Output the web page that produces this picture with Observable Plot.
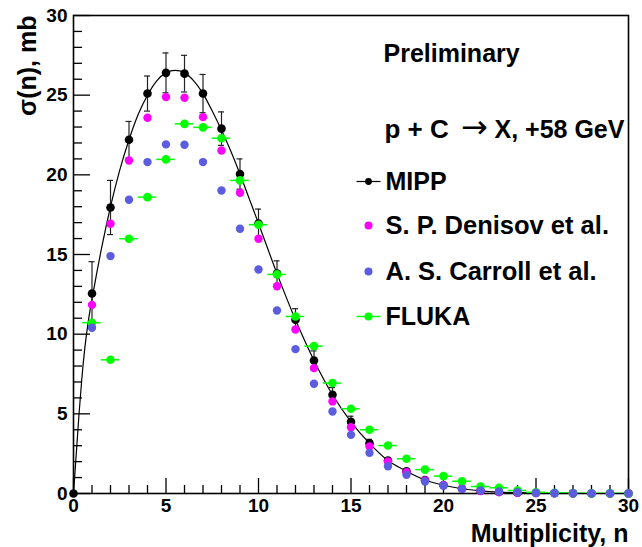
<!DOCTYPE html>
<html><head><meta charset="utf-8">
<script src="https://cdn.jsdelivr.net/npm/d3@7"></script>
<script src="https://cdn.jsdelivr.net/npm/@observablehq/plot@0.6"></script>
<style>body{margin:0;background:#fff} #chart svg{display:block}</style>
</head><body><div id="chart"></div>
<script>
// ---- data ----
const mippN   = [0,1,2,3,4,5,6,7,8,9,10,11,12,13,14,15,16,17,18,19,20,21,22,23,24,25,26,27,28,29,30];
const mippV   = [0,12.55,17.95,22.2,25.1,26.4,26.35,25.1,22.9,20.05,16.95,13.8,10.9,8.35,6.2,4.5,3.15,2.07,1.4,0.85,0.52,0.3,0.17,0.09,0.05,0.03,0.02,0.01,0,0,0];
const mippErr = [0,2.0,1.7,1.15,1.1,1.25,1.15,1.2,1.05,0.95,0.9,0.8,0.7,0.6,0.45,0.35,0.25,0.15,0.1,0.08,0.05,0.03,0.02,0.01,0,0,0,0,0,0,0];

const otherN   = [1,2,3,4,5,6,7,8,9,10,11,12,13,14,15,16,17,18,19,20,21,22,23,24,25,26,27,28,29,30];
const denisovV = [11.84,16.93,20.9,23.58,24.88,24.84,23.62,21.53,18.88,15.99,13.01,10.29,7.87,5.78,4.16,2.95,2.01,1.34,0.82,0.53,0.3,0.16,0.09,0.05,0.03,0.02,0.01,0.01,0,0];
const carrollV = [10.4,14.9,18.44,20.8,21.91,21.89,20.8,19.02,16.62,14.06,11.49,9.06,6.89,5.15,3.68,2.55,1.71,1.17,0.75,0.5,0.29,0.19,0.13,0.08,0.05,0.03,0.02,0.01,0.01,0.01];
const flukaV   = [10.72,8.39,15.99,18.6,20.97,23.2,22.98,22.3,19.65,16.87,13.75,11.11,9.25,6.93,5.32,4.0,3.01,2.18,1.5,1.09,0.77,0.44,0.36,0.19,0.08,0.04,0.02,0.01,0.01,0];

const fitX = [0,0.15,0.3,0.45,0.6,0.8,1,1.25,1.5,1.75,2,2.5,3,3.5,4,4.5,5,5.5,6,6.5,7,7.5,8,8.5,9,9.5,10,11,12,13,14,15,16,17,18,19,20,21,22,23,24,25,26,27,28,29,30];
const fitY = [0,2.5,5.0,7.2,9.0,10.8,12.2,13.8,15.3,16.7,18.0,20.3,22.2,23.8,25.0,25.9,26.4,26.55,26.4,25.9,25.1,24.0,22.8,21.5,20.05,18.5,16.95,13.8,10.9,8.35,6.2,4.5,3.15,2.07,1.4,0.85,0.52,0.3,0.17,0.09,0.05,0.03,0.015,0.01,0,0,0];

const xMajor = [0,5,10,15,20,25,30];
const xMinor = [1,2,3,4,6,7,8,9,11,12,13,14,16,17,18,19,21,22,23,24,26,27,28,29];
const yMajor = [0,5,10,15,20,25,30];
const yMinor = [1,2,3,4,6,7,8,9,11,12,13,14,16,17,18,19,21,22,23,24,26,27,28,29];

const seriesNames = ["MIPP","S. P. Denisov et al.","A. S. Carroll et al.","FLUKA"];
const seriesColors = ["#000000","#ff00ff","#5c5ce0","#00ff00"];
const noteLine1 = "Preliminary";
const reactionParts = ["p + C", "\u2192", "X, +58 GeV"];
const xTitle = "Multiplicity, n";
const yTitle = "\u03c3(n), mb";

// ---- build tables ----
const mipp = mippN.map((n,i)=>({n, v:mippV[i], e:mippErr[i]}));
const den  = otherN.map((n,i)=>({n, v:denisovV[i]}));
const car  = otherN.map((n,i)=>({n, v:carrollV[i]}));
const fluka= otherN.map((n,i)=>({n, v:flukaV[i]}));
const fit  = fitX.map((x,i)=>({x, y:fitY[i]}));
const mippE = mipp.filter(d=>d.e>0);

const FONT = "'Liberation Sans', Arial, Helvetica, sans-serif";
const lineSym = {draw(ctx){ ctx.moveTo(-12,0); ctx.lineTo(12,0); }};

const legX = 295, legTX = 312;
const legY = [166, 210, 256, 301];
const txt = {textAnchor: "start", lineAnchor: "middle", fontSize: 25, fontWeight: "bold", fill: "black"};

const chart = Plot.plot({
  width: 642, height: 547,
  marginLeft: 73, marginTop: 15, marginRight: 14, marginBottom: 54,
  style: {fontFamily: FONT, fontWeight: "bold", background: "white", color: "black", overflow: "visible"},
  x: {domain: [0,30]},
  y: {domain: [0,30]},
  marks: [
    // axes: labels
    Plot.axisX({ticks: xMajor, tickSize: 0, tickPadding: 5, fontSize: 19, fontWeight: "bold", label: null}),
    Plot.axisY({ticks: yMajor, tickSize: 0, tickPadding: 6, fontSize: 19, fontWeight: "bold", label: null}),
    // inward ticks
    Plot.axisX({ticks: xMajor, tickSize: 15, dy: -15, text: null, label: null, strokeWidth: 1.3}),
    Plot.axisX({ticks: xMinor, tickSize: 8, dy: -8, text: null, label: null, strokeWidth: 1.3}),
    Plot.axisY({ticks: yMajor, tickSize: 17, dx: 17, text: null, label: null, strokeWidth: 1.3}),
    Plot.axisY({ticks: yMinor, tickSize: 9, dx: 9, text: null, label: null, strokeWidth: 1.3}),
    Plot.frame({stroke: "black", strokeWidth: 1.6}),
    // fit curve
    Plot.line(fit, {x: "x", y: "y", curve: "monotone-x", stroke: "black", strokeWidth: 1.2}),
    // MIPP error bars
    Plot.ruleX(mippE, {x: "n", y1: d=>d.v-d.e, y2: d=>d.v+d.e, stroke: "#222", strokeWidth: 1.2}),
    Plot.ruleY(mippE, {y: d=>d.v+d.e, x1: "n", x2: "n", insetLeft: -3, insetRight: -3, stroke: "#222", strokeWidth: 1.2}),
    Plot.ruleY(mippE, {y: d=>d.v-d.e, x1: "n", x2: "n", insetLeft: -3, insetRight: -3, stroke: "#222", strokeWidth: 1.2}),
    Plot.dot(mipp, {x: "n", y: "v", r: 4.3, fill: seriesColors[0]}),
    Plot.dot(den, {x: "n", y: "v", r: 4.2, fill: seriesColors[1]}),
    Plot.ruleY(fluka, {y: "v", x1: d=>d.n-0.5, x2: d=>d.n+0.5, stroke: seriesColors[3], strokeWidth: 1.5, clip: "frame"}),
    Plot.dot(fluka, {x: "n", y: "v", r: 4.3, fill: seriesColors[3]}),
    Plot.dot(car, {x: "n", y: "v", r: 4.2, fill: seriesColors[2]}),
    // titles
    Plot.text([yTitle], {...txt, text: d=>d, frameAnchor: "top-left", dx: -46, dy: 0, rotate: -90, textAnchor: "end"}),
    Plot.text([xTitle], {...txt, text: d=>d, frameAnchor: "bottom-right", dx: 0, dy: 40, textAnchor: "end"}),
    // notes
    Plot.text([noteLine1], {...txt, text: d=>d, frameAnchor: "top-left", dx: legTX - 2, dy: 38}),
    Plot.text([reactionParts[0]], {...txt, text: d=>d, frameAnchor: "top-left", dx: legTX - 1, dy: 114, fontSize: 26}),
    Plot.text([reactionParts[1]], {...txt, text: d=>d, frameAnchor: "top-left", dx: 401, dy: 112, textAnchor: "middle", fontFamily: "'DejaVu Sans', sans-serif", fontWeight: "normal", fontSize: 32}),
    Plot.text([reactionParts[2]], {...txt, text: d=>d, frameAnchor: "top-left", dx: 421, dy: 114}),
    // legend
    Plot.dot([0], {frameAnchor: "top-left", dx: legX, dy: legY[0], symbol: lineSym, stroke: seriesColors[0], strokeWidth: 1.2, fill: "none"}),
    Plot.dot([0], {frameAnchor: "top-left", dx: legX, dy: legY[3], symbol: lineSym, stroke: seriesColors[3], strokeWidth: 1.5, fill: "none"}),
    ...seriesNames.map((s,i)=>Plot.dot([s], {frameAnchor: "top-left", dx: legX, dy: legY[i], r: i===0 ? 3.4 : 4, fill: seriesColors[i]})),
    ...seriesNames.map((s,i)=>Plot.text([s], {...txt, text: d=>d, frameAnchor: "top-left", dx: legTX, dy: legY[i], fontSize: i===1 || i===2 ? 25.5 : 25}))
  ]
});
document.getElementById("chart").appendChild(chart);
</script>
</body></html>
